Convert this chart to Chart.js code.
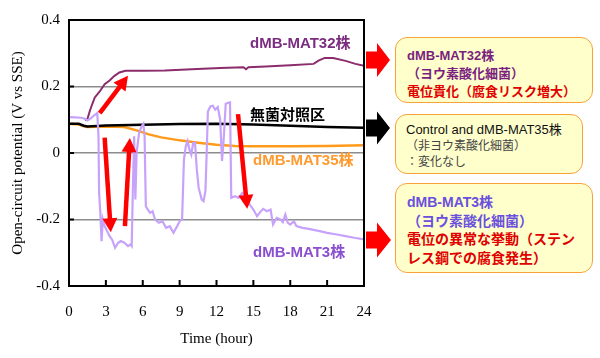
<!DOCTYPE html>
<html>
<head>
<meta charset="utf-8">
<script src="https://cdn.jsdelivr.net/npm/chart.js@4.4.0/dist/chart.umd.min.js"></script>
<style>
    body { margin: 0; background: #fff; }
    #wrap { position: relative; width: 600px; height: 358px; }
    #wrap canvas { position: absolute; left: 0; top: 0; }
    .lbl {
        position: absolute; white-space: nowrap; line-height: 16px;
        font-family: Arial, "Liberation Sans", "Noto Sans CJK JP", sans-serif;
        font-size: 15px; font-weight: bold;
    }
    .box {
        position: absolute; left: 395px; box-sizing: border-box;
        background: #ffffcc; border: 1.5px solid #f7a23a; border-radius: 12px;
        font-family: Arial, "Liberation Sans", "Noto Sans CJK JP", sans-serif;
        white-space: nowrap;
    }
    .red { color: #e00000; }
</style>
</head>
<body>
<div id="wrap">
    <canvas id="ocpChart" width="600" height="358"></canvas>

    <div class="lbl" style="left:250px;top:35px;color:#7b2d80;">dMB-MAT32株</div>
    <div class="lbl" style="left:250px;top:107px;color:#000;">無菌対照区</div>
    <div class="lbl" style="left:253px;top:152px;color:#ff9a2e;">dMB-MAT35株</div>
    <div class="lbl" style="left:253px;top:244px;color:#8a4fd0;">dMB-MAT3株</div>

    <div class="box" style="top:37px;width:198px;height:66px;padding:9px 0 0 11px;font-size:13px;font-weight:bold;line-height:18px;color:#7a1f80;">
        dMB-MAT32株<br>（ヨウ素酸化細菌）<br><span class="red">電位貴化（腐食リスク増大）</span>
    </div>
    <div class="box" style="top:114px;width:188px;height:60px;padding:7px 0 0 10px;font-size:13px;line-height:16px;color:#111;">
        Control and dMB-MAT35株<br><span style="font-size:12px;color:#444;">（非ヨウ素酸化細菌）<br>：変化なし</span>
    </div>
    <div class="box" style="top:183px;width:198px;height:90px;padding:9px 0 0 11px;font-size:14px;font-weight:bold;line-height:18.5px;color:#6a50dc;">
        dMB-MAT3株<br>（ヨウ素酸化細菌）<br><span class="red">電位の異常な挙動（ステン<br>レス鋼での腐食発生）</span>
    </div>
</div>

<script>
// time axis ticks (hours)
const timeTicks = [0, 3, 6, 9, 12, 15, 18, 21, 24];

// dMB-MAT32 (iodide-oxidizing)
const mat32Time = [1.3, 1.5, 1.7, 1.9, 2.1, 2.5, 2.9, 3.3, 3.7, 4.1, 4.6, 6, 7.8, 10, 12.3, 14.2, 14.4, 14.6, 16, 18, 19.9, 20.3, 20.8, 21.5, 22.5, 23.3, 24];
const mat32Value = [0.098, 0.102, 0.127, 0.148, 0.167, 0.185, 0.207, 0.218, 0.232, 0.242, 0.247, 0.247, 0.248, 0.252, 0.256, 0.258, 0.252, 0.258, 0.26, 0.264, 0.268, 0.278, 0.286, 0.286, 0.277, 0.268, 0.262];

// sterile control
const ctrlTime = [0, 0.8, 1.2, 1.5, 3, 6, 9, 12, 15, 18, 21, 24];
const ctrlValue = [0.088, 0.088, 0.082, 0.08, 0.083, 0.085, 0.087, 0.088, 0.086, 0.082, 0.078, 0.076];

// dMB-MAT35 (non iodide-oxidizing)
const mat35Time = [0, 0.8, 1.2, 1.5, 3, 4.5, 5.5, 6.5, 7.5, 9, 10.5, 12, 13.5, 15, 18, 21, 24];
const mat35Value = [0.088, 0.086, 0.08, 0.078, 0.08, 0.078, 0.068, 0.056, 0.047, 0.038, 0.031, 0.025, 0.021, 0.02, 0.02, 0.021, 0.023];

// dMB-MAT3 (iodide-oxidizing, unstable)
const mat3Time = [0, 0.5, 1.0, 1.3, 1.5, 1.8, 2.1, 2.3, 2.4, 2.45, 2.55, 2.65, 2.75, 2.9, 3.1, 3.3, 3.5, 3.75, 4.0, 4.2, 4.5, 4.8, 5.0, 5.1,
    5.2, 5.3, 5.4, 5.5, 5.7, 5.9, 6.05, 6.15, 6.25, 6.4, 6.6, 6.8, 7.0, 7.3, 7.6, 7.9, 8.2, 8.5, 8.8, 9.0, 9.2,
    9.35, 9.5, 9.65, 9.8, 9.95, 10.1, 10.25, 10.4, 10.55, 10.8, 10.95, 11.1, 11.2, 11.3, 11.5, 11.7, 11.9, 12.1, 12.3, 12.45,
    12.6, 12.75, 12.9, 13.1, 13.2, 13.5, 13.8, 14.1, 14.3, 14.5, 14.7, 15.0, 15.3, 15.5, 15.8, 16.1, 16.4, 16.6, 16.9,
    17.2, 17.4, 17.6, 17.8, 18.0, 18.3, 18.5, 19.0, 19.5, 20.0, 20.4, 21.0, 21.8, 22.5, 23.2, 24.0];
const mat3Value = [0.108, 0.107, 0.106, 0.103, 0.098, 0.105, 0.115, 0.12, 0.05, -0.12, -0.18, -0.265, -0.2, -0.22, -0.235, -0.25, -0.26, -0.285, -0.27, -0.265, -0.27, -0.28, -0.275, -0.28,
    -0.1, 0.05, -0.14, 0.0, 0.06, 0.08, 0.088, 0.05, -0.16, -0.17, -0.18, -0.175, -0.2, -0.21, -0.205, -0.225, -0.22, -0.24, -0.22, -0.205, -0.2,
    -0.02, 0.02, 0.036, 0.01, -0.005, 0.03, 0.031, -0.05, -0.105, -0.14, -0.145, -0.115, 0.0, 0.125, 0.14, 0.142, 0.13, 0.138, 0.1, -0.024,
    0.05, 0.148, 0.15, 0.152, -0.135, -0.13, -0.135, -0.12, -0.124, -0.14, -0.155, -0.17, -0.19, -0.18, -0.168, -0.175, -0.17, -0.215, -0.195,
    -0.2, -0.208, -0.185, -0.21, -0.215, -0.205, -0.22, -0.225, -0.228, -0.232, -0.235, -0.24, -0.245, -0.25, -0.255, -0.26];

// red annotation arrows: [fromTime, fromValue, toTime, toValue]
const redArrows = [
    [2.5, 0.12, 4.8, 0.232],
    [2.9, 0.046, 3.4, -0.238],
    [4.55, -0.22, 4.95, 0.045],
    [13.75, 0.117, 14.5, -0.168]
];

const serif = '"Liberation Serif", "Times New Roman", serif';

function pairs(xs, ys) {
    return xs.map((x, i) => ({ x: x, y: ys[i] }));
}

function arrowHead(ctx, x1, y1, x2, y2, len, half) {
    const a = Math.atan2(y2 - y1, x2 - x1);
    ctx.beginPath();
    ctx.moveTo(x2, y2);
    ctx.lineTo(x2 - len * Math.cos(a) + half * Math.sin(a), y2 - len * Math.sin(a) - half * Math.cos(a));
    ctx.lineTo(x2 - len * Math.cos(a) - half * Math.sin(a), y2 - len * Math.sin(a) + half * Math.cos(a));
    ctx.closePath();
    ctx.fill();
}

function blockArrow(ctx, x0, xb, xt, yc, bodyHalf, headHalf, color) {
    ctx.fillStyle = color;
    ctx.beginPath();
    ctx.moveTo(x0, yc - bodyHalf);
    ctx.lineTo(xb, yc - bodyHalf);
    ctx.lineTo(xb, yc - headHalf);
    ctx.lineTo(xt, yc);
    ctx.lineTo(xb, yc + headHalf);
    ctx.lineTo(xb, yc + bodyHalf);
    ctx.lineTo(x0, yc + bodyHalf);
    ctx.closePath();
    ctx.fill();
}

// frame, inward ticks, red arrows and the block arrows pointing to the notes
const decorPlugin = {
    id: 'decor',
    afterDraw(chart) {
        const ctx = chart.ctx;
        const area = chart.chartArea;
        const xs = chart.scales.x;
        const ys = chart.scales.y;
        ctx.save();

        ctx.strokeStyle = '#000';
        ctx.lineWidth = 2;
        ctx.strokeRect(area.left, area.top, area.right - area.left, area.bottom - area.top);

        timeTicks.forEach(t => {
            const px = xs.getPixelForValue(t);
            ctx.beginPath();
            ctx.moveTo(px, area.bottom);
            ctx.lineTo(px, area.bottom - 6);
            ctx.stroke();
        });
        [-0.2, 0, 0.2].forEach(v => {
            const py = ys.getPixelForValue(v);
            ctx.beginPath();
            ctx.moveTo(area.left, py);
            ctx.lineTo(area.left + 5, py);
            ctx.stroke();
        });

        ctx.strokeStyle = '#ff0000';
        ctx.fillStyle = '#ff0000';
        ctx.lineWidth = 4.5;
        redArrows.forEach(a => {
            const x1 = xs.getPixelForValue(a[0]), y1 = ys.getPixelForValue(a[1]);
            const x2 = xs.getPixelForValue(a[2]), y2 = ys.getPixelForValue(a[3]);
            const ang = Math.atan2(y2 - y1, x2 - x1);
            ctx.beginPath();
            ctx.moveTo(x1, y1);
            ctx.lineTo(x2 - 11 * Math.cos(ang), y2 - 11 * Math.sin(ang));
            ctx.stroke();
            arrowHead(ctx, x1, y1, x2, y2, 14, 7.5);
        });

        const x0 = area.right + 2;
        blockArrow(ctx, x0, 377, 390, 60, 8.5, 17, '#ff0000');
        blockArrow(ctx, x0, 377, 390, 128, 8.5, 16.5, '#000000');
        blockArrow(ctx, x0, 377, 391, 240, 8.5, 17.5, '#ff0000');
        ctx.restore();
    }
};

const ctx = document.getElementById('ocpChart').getContext('2d');
new Chart(ctx, {
    type: 'line',
    data: {
        datasets: [
            { label: 'dMB-MAT3', data: pairs(mat3Time, mat3Value), borderColor: '#c7a2fb', borderWidth: 2.2 },
            { label: 'dMB-MAT32', data: pairs(mat32Time, mat32Value), borderColor: '#8b2c6c', borderWidth: 2 },
            { label: 'Control', data: pairs(ctrlTime, ctrlValue), borderColor: '#000000', borderWidth: 2.5 },
            { label: 'dMB-MAT35', data: pairs(mat35Time, mat35Value), borderColor: '#ff9a1a', borderWidth: 2.5 }
        ]
    },
    options: {
        responsive: false,
        animation: false,
        parsing: false,
        elements: { point: { radius: 0 }, line: { tension: 0 } },
        layout: { padding: { top: 20, right: 236, left: 0, bottom: 0 } },
        plugins: { legend: { display: false }, tooltip: { enabled: false } },
        scales: {
            x: {
                type: 'linear', min: 0, max: 24,
                afterBuildTicks: s => { s.ticks = timeTicks.map(v => ({ value: v })); },
                afterFit: s => { s.height = 72; },
                grid: { display: false, drawTicks: false },
                border: { display: true, color: '#000', width: 2 },
                ticks: { color: '#000', font: { family: serif, size: 15 }, padding: 17, maxRotation: 0 },
                title: { display: true, text: 'Time (hour)', color: '#000', font: { family: serif, size: 15 }, padding: { top: 4, bottom: 10 } }
            },
            y: {
                min: -0.4, max: 0.4,
                afterFit: s => { s.width = 69; },
                grid: {
                    drawTicks: false,
                    color: c => (Math.abs(c.tick.value) > 0.3 ? 'rgba(0,0,0,0)' : '#8c8c8c'),
                    lineWidth: 1.5
                },
                border: { display: true, color: '#000', width: 2 },
                ticks: {
                    stepSize: 0.2, color: '#000', padding: 9,
                    font: { family: serif, size: 15 },
                    callback: v => (Math.abs(v) < 1e-9 ? '0' : v.toFixed(1))
                },
                title: { display: true, text: 'Open-circuit potential (V vs SSE)', color: '#000', font: { family: serif, size: 15 }, padding: { top: 9, bottom: 4 } }
            }
        }
    },
    plugins: [decorPlugin]
});
</script>
</body>
</html>
